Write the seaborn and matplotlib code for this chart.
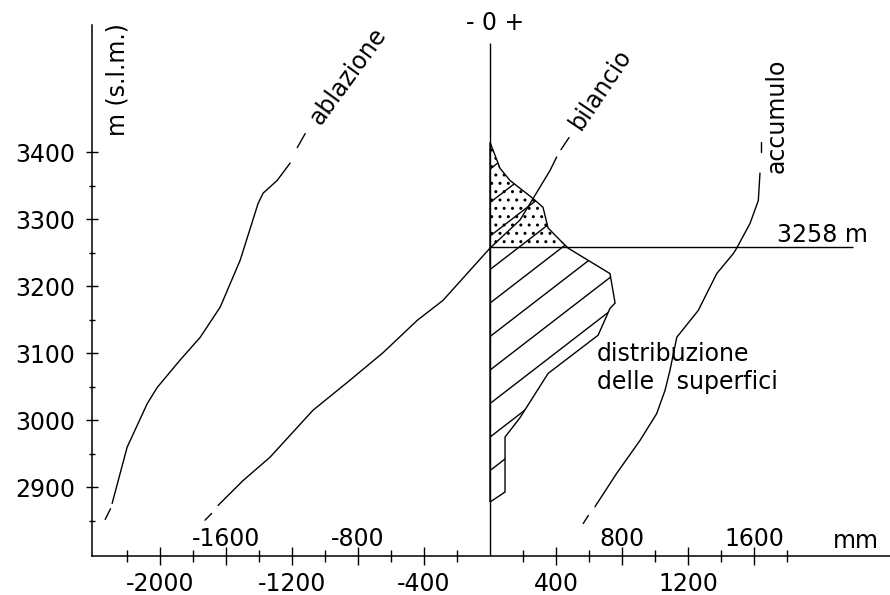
import numpy as np
import matplotlib
matplotlib.use('Agg')
import matplotlib.pyplot as plt
from matplotlib.patches import Polygon, Rectangle
import seaborn as sns

# quota (m s.l.m.) vs mm (equivalente in acqua)
abl_x = [-2290, -2199, -2077, -2017, -1878, -1756, -1635, -1514, -1405, -1375, -1290, -1211]
abl_y = [2876, 2960, 3025, 3049, 3090, 3124, 3169, 3239, 3324, 3339, 3358, 3384]
abl_dash_lo = ([-2332, -2300], [2852, 2868])
abl_dash_hi = ([-1168, -1120], [3407, 3428])

bil_x = [-1648, -1497, -1333, -1073, -848, -648, -442, -285, 0, 182, 261, 364, 404]
bil_y = [2873, 2910, 2945, 3015, 3060, 3101, 3149, 3179, 3257, 3299, 3331, 3373, 3393]
bil_dash_lo = ([-1727, -1687], [2851, 2861])
bil_dash_hi = ([430, 479], [3404, 3422])

acc_x = [636, 768, 909, 1010, 1061, 1091, 1132, 1262, 1374, 1475, 1495, 1576, 1626, 1636]
acc_y = [2871, 2921, 2970, 3010, 3045, 3075, 3124, 3164, 3219, 3249, 3257, 3294, 3328, 3369]
acc_dash_lo = ([565, 596], [2846, 2858])
acc_dash_hi = ([1641, 1641], [3400, 3415])

# distribuzione delle superfici (area per fascia altimetrica)
dist_x = [0, 61, 121, 261, 321, 352, 424, 473, 727, 758, 727, 655, 352, 182, 91, 91, 0]
dist_y = [3415, 3376, 3358, 3331, 3318, 3287, 3269, 3257, 3219, 3175, 3167, 3127, 3070, 3004, 2975, 2893, 2878]

ela = 3258
ela_end = 2200
zero_top = 3563

x_major = [-2000, -1600, -1200, -800, -400, 400, 800, 1200, 1600]
x_minor = [-2200, -1800, -1400, -1000, -600, -200, 200, 600, 1000, 1400, 1800]
x_lab_bottom = [-2000, -1200, -400, 400, 1200]
x_lab_top = [-1600, -800, 800, 1600]
y_major = [2900, 3000, 3100, 3200, 3300, 3400]
y_minor = [2850, 2950, 3050, 3150, 3250, 3350]

sns.set_theme(style='white', rc={'axes.edgecolor': 'black', 'text.color': 'black',
                                 'xtick.color': 'black', 'ytick.color': 'black',
                                 'xtick.bottom': True, 'ytick.left': True,
                                 'hatch.linewidth': 1.0})
plt.rcParams['font.family'] = ['DejaVu Sans']
fs = 17

fig = plt.figure(figsize=(8.9, 5.95), dpi=100)
ax = fig.add_axes([92 / 890, 39 / 595, 798 / 890, 531 / 595])
ax.set_xlim(-2412, 2424)
ax.set_ylim(2797.5, 3590)
ax.spines[['top', 'right']].set_visible(False)
for s in ['left', 'bottom']:
    ax.spines[s].set_linewidth(1.1)

lw = 1.0
for xs, ys in [(abl_x, abl_y), (bil_x, bil_y), (acc_x, acc_y),
               abl_dash_lo, abl_dash_hi, bil_dash_lo, bil_dash_hi, acc_dash_lo, acc_dash_hi]:
    sns.lineplot(x=xs, y=ys, sort=False, estimator=None, color='black', lw=lw, ax=ax)

# zero axis and ELA line
ax.vlines(0, 2797.5, zero_top, color='black', lw=lw)
ax.hlines(ela, 0, ela_end, color='black', lw=lw)

# area distribution: outline, dots above ELA, diagonal hatching
pts = np.column_stack([dist_x, dist_y])
outline = Polygon(pts, closed=True, facecolor='none', edgecolor='black', lw=lw)
ax.add_patch(outline)
dots = Polygon(pts, closed=True, facecolor='none', edgecolor='black', lw=0, hatch='..')
ax.add_patch(dots)
dots.set_clip_path(Rectangle((0, ela), 3000, 500, transform=ax.transData))
for c in np.arange(2875, 3400, 50):
    hx = np.array([0, 900])
    ln, = ax.plot(hx, c + 0.19 * hx, color='black', lw=lw)
    ln.set_clip_path(outline)

# ticks
ax.set_xticks(x_major)
ax.set_xticks(x_minor, minor=True)
ax.set_xticklabels([str(v) if v in x_lab_bottom else '' for v in x_major])
ax.set_yticks(y_major)
ax.set_yticks(y_minor, minor=True)
ax.tick_params(axis='x', which='major', direction='inout', length=13.5, width=1, pad=4.5, labelsize=fs)
ax.tick_params(axis='x', which='minor', direction='inout', length=8, width=1)
ax.tick_params(axis='y', which='major', direction='inout', length=8.6, width=1, pad=7.9, labelsize=fs)
ax.tick_params(axis='y', which='minor', direction='inout', length=4.3, width=1)

for v in x_lab_top:
    ax.text(v, 2813, str(v), ha='center', va='baseline', fontsize=fs)

ax.text(2079, 2810, 'mm', ha='left', va='baseline', fontsize=fs)
ax.text(30, 3582, '- 0 +', ha='center', va='baseline', fontsize=fs, clip_on=False)
ax.text(-2255, 3425, 'm (s.l.m.)', rotation=90, rotation_mode='anchor', ha='left', va='center', fontsize=fs)
ax.text(-1061, 3445, 'ablazione', rotation=54, rotation_mode='anchor', ha='left', va='center', fontsize=fs)
ax.text(515, 3437, 'bilancio', rotation=56, rotation_mode='anchor', ha='left', va='center', fontsize=fs)
ax.text(1739, 3369, 'accumulo', rotation=90, rotation_mode='anchor', ha='left', va='center', fontsize=fs)
ax.text(1738, 3266, f'{ela} m', ha='left', va='baseline', fontsize=fs)
ax.text(648, 3117, 'distribuzione\ndelle   superfici', ha='left', va='top', fontsize=fs)

fig.savefig('out.png', dpi=100)
